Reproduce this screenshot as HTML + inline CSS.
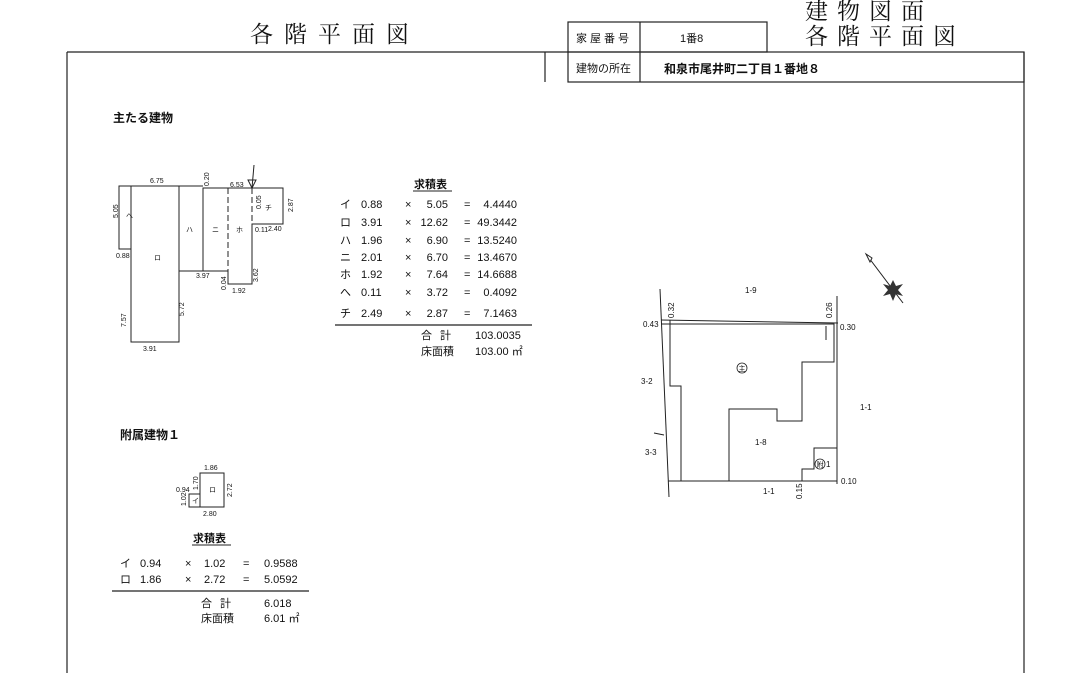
<!DOCTYPE html>
<html><head><meta charset="utf-8"><style>
html,body{margin:0;padding:0;background:#fff;}
svg{display:block;}
text{font-family:"Liberation Sans","Noto Sans CJK JP",sans-serif;fill:#111;}
.s{font-size:7px;}
.t{font-size:11px;}
.m{font-family:"Liberation Serif","Noto Serif CJK SC",serif;}
</style></head><body>
<svg width="1065" height="673" viewBox="0 0 1065 673" xmlns="http://www.w3.org/2000/svg">
<g stroke="#222" fill="none" stroke-width="1.2">
<line x1="67" y1="52" x2="568" y2="52"/>
<line x1="67" y1="52" x2="67" y2="673"/>
<line x1="1024" y1="52" x2="1024" y2="673"/>
<line x1="545" y1="52" x2="545" y2="82"/>
<rect x="568" y="22" width="199" height="30"/>
<line x1="640" y1="22" x2="640" y2="82"/>
<rect x="568" y="52" width="456" height="30"/>
</g>
<text x="250" y="42" class="m" font-size="23" letter-spacing="11">各階平面図</text>
<text x="805" y="19" class="m" font-size="23" letter-spacing="9">建物図面</text>
<text x="805" y="44" class="m" font-size="23" letter-spacing="9">各階平面図</text>
<text x="576" y="42" font-size="11" letter-spacing="3">家屋番号</text>
<text x="680" y="42" font-size="11">1番8</text>
<text x="576" y="72" font-size="11">建物の所在</text>
<text x="664" y="73" font-size="12" font-weight="bold">和泉市尾井町二丁目１番地８</text>

<text x="113" y="122" font-size="12" font-weight="bold">主たる建物</text>

<g stroke="#222" fill="none" stroke-width="1">
<rect x="119" y="186" width="12" height="63"/>
<polyline points="131,186 179,186 179,342 131,342 131,186"/>
<line x1="179" y1="186" x2="203" y2="186"/>
<polyline points="179,271 203,271 203,188 283,188 283,224 252,224 252,284 228,284 228,271 203,271"/>
<line x1="228" y1="188" x2="228" y2="271" stroke-dasharray="6,3"/>
<line x1="252" y1="188" x2="252" y2="224" stroke-dasharray="6,3"/>
<line x1="254" y1="165" x2="252" y2="188"/>
<polygon points="248,180 256,180 252,188"/>
</g>
<g class="s">
<text x="150" y="183">6.75</text><text x="230" y="187">6.53</text>
<text x="154" y="260">ロ</text><text x="186" y="232">ハ</text><text x="212" y="232">ニ</text><text x="236" y="232">ホ</text><text x="265" y="210">チ</text>
<text x="116" y="258">0.88</text><text x="143" y="351">3.91</text><text x="196" y="278">3.97</text><text x="232" y="293">1.92</text>
<text x="255" y="232">0.11</text><text x="268" y="231">2.40</text>
<text transform="translate(118,218) rotate(-90)">5.05</text>
<text transform="translate(126,327) rotate(-90)">7.57</text>
<text transform="translate(184,316) rotate(-90)">5.72</text>
<text transform="translate(209,186) rotate(-90)">0.20</text>
<text transform="translate(293,212) rotate(-90)">2.87</text>
<text transform="translate(258,282) rotate(-90)">3.62</text>
<text transform="translate(226,290) rotate(-90)">0.04</text>
<text transform="translate(261,209) rotate(-90)">0.05</text>
<text x="126" y="218">へ</text>
</g>

<text x="414" y="188" font-size="11" font-weight="bold">求積表</text>
<line x1="413" y1="191" x2="452" y2="191" stroke="#222"/>
<g class="t">
<text x="340" y="208">イ</text><text x="361" y="208">0.88</text><text x="405" y="208">×</text><text x="448" y="208" text-anchor="end">5.05</text><text x="464" y="208">=</text><text x="517" y="208" text-anchor="end">4.4440</text>
<text x="340" y="226">ロ</text><text x="361" y="226">3.91</text><text x="405" y="226">×</text><text x="448" y="226" text-anchor="end">12.62</text><text x="464" y="226">=</text><text x="517" y="226" text-anchor="end">49.3442</text>
<text x="340" y="244">ハ</text><text x="361" y="244">1.96</text><text x="405" y="244">×</text><text x="448" y="244" text-anchor="end">6.90</text><text x="464" y="244">=</text><text x="517" y="244" text-anchor="end">13.5240</text>
<text x="340" y="261">ニ</text><text x="361" y="261">2.01</text><text x="405" y="261">×</text><text x="448" y="261" text-anchor="end">6.70</text><text x="464" y="261">=</text><text x="517" y="261" text-anchor="end">13.4670</text>
<text x="340" y="278">ホ</text><text x="361" y="278">1.92</text><text x="405" y="278">×</text><text x="448" y="278" text-anchor="end">7.64</text><text x="464" y="278">=</text><text x="517" y="278" text-anchor="end">14.6688</text>
<text x="340" y="296">へ</text><text x="361" y="296">0.11</text><text x="405" y="296">×</text><text x="448" y="296" text-anchor="end">3.72</text><text x="464" y="296">=</text><text x="517" y="296" text-anchor="end">0.4092</text>
<text x="340" y="317">チ</text><text x="361" y="317">2.49</text><text x="405" y="317">×</text><text x="448" y="317" text-anchor="end">2.87</text><text x="464" y="317">=</text><text x="517" y="317" text-anchor="end">7.1463</text>
<text x="421" y="339" letter-spacing="8">合計</text><text x="475" y="339">103.0035</text>
<text x="421" y="355">床面積</text><text x="475" y="355">103.00 ㎡</text>
</g>
<line x1="335" y1="325" x2="532" y2="325" stroke="#222" stroke-width="1.3"/>

<text x="120" y="439" font-size="12" font-weight="bold">附属建物１</text>
<g stroke="#222" fill="none" stroke-width="1">
<rect x="200" y="473" width="24" height="34"/>
<rect x="189" y="494" width="11" height="13"/>
</g>
<g class="s">
<text x="204" y="470">1.86</text><text x="209" y="492">ロ</text><text x="192" y="503">イ</text>
<text x="176" y="492">0.94</text><text x="203" y="516">2.80</text>
<text transform="translate(198,490) rotate(-90)">1.70</text>
<text transform="translate(232,497) rotate(-90)">2.72</text>
<text transform="translate(186,506) rotate(-90)">1.02</text>
</g>
<text x="193" y="542" font-size="11" font-weight="bold">求積表</text>
<line x1="192" y1="545" x2="231" y2="545" stroke="#222"/>
<g class="t">
<text x="120" y="567">イ</text><text x="140" y="567">0.94</text><text x="185" y="567">×</text><text x="204" y="567">1.02</text><text x="243" y="567">=</text><text x="264" y="567">0.9588</text>
<text x="120" y="583">ロ</text><text x="140" y="583">1.86</text><text x="185" y="583">×</text><text x="204" y="583">2.72</text><text x="243" y="583">=</text><text x="264" y="583">5.0592</text>
<text x="201" y="607" letter-spacing="8">合計</text><text x="264" y="607">6.018</text>
<text x="201" y="622">床面積</text><text x="264" y="622">6.01 ㎡</text>
</g>
<line x1="112" y1="591" x2="309" y2="591" stroke="#222" stroke-width="1.3"/>

<g stroke="#222" fill="none" stroke-width="1">
<line x1="660" y1="289" x2="669" y2="497"/>
<line x1="661" y1="320" x2="838" y2="323"/>
<line x1="837" y1="296" x2="837" y2="484"/>
<line x1="668" y1="481" x2="837" y2="481"/>
<polyline points="661,324 834,324 834,362 802,362 802,421 777,421 777,409 729,409 729,481"/>
<polyline points="670,320 670,386 681,386 681,481"/>
<polyline points="837,448 814,448 814,469 802,469 802,481"/>
<line x1="826" y1="326" x2="826" y2="340"/>
<line x1="654" y1="433" x2="664" y2="435"/>
</g>
<g font-size="8">
<text x="745" y="293">1-9</text>
<text x="643" y="327">0.43</text><text x="840" y="330">0.30</text>
<text x="641" y="384">3-2</text><text x="645" y="455">3-3</text>
<text x="860" y="410">1-1</text><text x="755" y="445">1-8</text>
<text x="763" y="494">1-1</text><text x="841" y="484">0.10</text>
<text transform="translate(674,318) rotate(-90)">0.32</text>
<text transform="translate(832,318) rotate(-90)">0.26</text>
<text transform="translate(802,499) rotate(-90)">0.15</text>
</g>
<circle cx="742" cy="368" r="5" fill="none" stroke="#222" stroke-width="0.8"/>
<text x="738.5" y="371" font-size="7">主</text>
<circle cx="820" cy="464" r="5" fill="none" stroke="#222" stroke-width="0.8"/>
<text x="816.5" y="467" font-size="7">附</text><text x="826" y="467" font-size="8">1</text>

<g stroke="#222" stroke-width="1">
<line x1="866" y1="254" x2="903" y2="303"/>
<polygon points="866,254 872,258 870,262" fill="#fff"/>
</g>
<polygon points="893,280 896,286 903,284 898,290 903,296 896,294 893,301 890,294 883,296 888,290 883,284 890,286" fill="#333"/>
</svg>
</body></html>
